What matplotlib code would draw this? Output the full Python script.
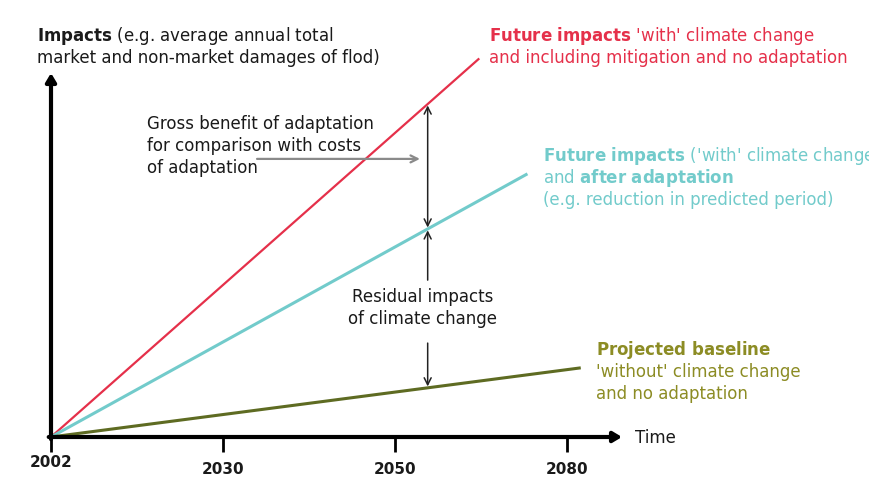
import numpy as np
import matplotlib.pyplot as plt
import matplotlib.transforms as mtransforms

# ---------------------------------------------------------
# data (conceptual impact index, x = position of the tick)
# ---------------------------------------------------------
tick_years = ["2002", "2030", "2050", "2080"]
tick_pos = [0, 1, 2, 3]

x_with_cc = [0, 2.49]        # future impacts 'with' climate change
y_with_cc = [0, 104.0]
x_adapt = [0, 2.77]          # future impacts after adaptation
y_adapt = [0, 72.3]
x_base = [0, 3.08]           # projected baseline
y_base = [0, 19.0]

x_bracket = 2.19             # where the benefit / residual arrows sit

RED = '#E5304A'
TEAL = '#72CBCB'
OLIVE_TXT = '#8C8C24'
OLIVE_LINE = '#5E6B22'
INK = '#1a1a1a'
FS = 12
STEP = 22  # px between text baselines

plt.rcParams['font.family'] = ['DejaVu Sans']
plt.rcParams['mathtext.fontset'] = 'dejavusans'

fig = plt.figure(figsize=(8.7, 5.04), dpi=100)
W, H = 870, 504
# pixel coordinates (top-left origin) for the labels
px = mtransforms.Affine2D().scale(1 / W, -1 / H).translate(0, 1) + fig.transFigure


def bloc(x, y, lines, color, ha='left'):
    # one text per line so bold (mathtext) lines keep the same spacing
    for i, line in enumerate(lines):
        fig.text(x, y + i * STEP, line, transform=px, va='baseline', ha=ha,
                 fontsize=FS, color=color)


ax = fig.add_axes([51 / W, (H - 437) / H, 571 / W, 364 / H])
ax.set_xlim(0, 571 / 172)
ax.set_ylim(0, 100)
for s in ax.spines.values():
    s.set_visible(False)
ax.set_yticks([])
ax.patch.set_alpha(0)

# --- lines ---
ax.plot(x_with_cc, y_with_cc, color=RED, lw=1.6, solid_capstyle='butt', zorder=3, clip_on=False)
ax.plot(x_adapt, y_adapt, color=TEAL, lw=2.2, solid_capstyle='butt', zorder=3, clip_on=False)
ax.plot(x_base, y_base, color=OLIVE_LINE, lw=2.2, solid_capstyle='butt', zorder=3, clip_on=False)

# --- axes drawn as arrows ---
arr = dict(arrowstyle='-|>,head_length=0.5,head_width=0.3', lw=3, color='black',
           shrinkA=0, shrinkB=0)
ax.annotate('', xy=(1, 0), xytext=(-0.004, 0), xycoords='axes fraction', arrowprops=arr, zorder=5)
ax.annotate('', xy=(0, 1), xytext=(0, -0.006), xycoords='axes fraction', arrowprops=arr, zorder=5)

ax.set_xticks(tick_pos, tick_years)
ax.tick_params(axis='x', direction='out', length=11, width=2, pad=7,
               labelsize=11, colors='black', labelcolor=INK)
for lab in ax.get_xticklabels():
    lab.set_fontweight('bold')
first = ax.get_xticklabels()[0]
first.set_transform(first.get_transform() + mtransforms.ScaledTranslation(0, 0.07, fig.dpi_scale_trans))

# --- brackets ---
yr = np.interp(x_bracket, x_with_cc, y_with_cc)
yt = np.interp(x_bracket, x_adapt, y_adapt)
yo = np.interp(x_bracket, x_base, y_base)
thin = dict(arrowstyle='->,head_length=0.5,head_width=0.25', lw=1.1, color='#222222',
            shrinkA=0, shrinkB=1)
ax.annotate('', xy=(x_bracket, yr), xytext=(x_bracket, yt),
            arrowprops=dict(thin, arrowstyle='<->,head_length=0.5,head_width=0.25', shrinkA=1))
ax.annotate('', xy=(x_bracket, yt), xytext=(x_bracket, 43.1), arrowprops=thin)
ax.annotate('', xy=(x_bracket, yo), xytext=(x_bracket, 25.8), arrowprops=thin)
ax.annotate('', xy=(2.145, 76.4), xytext=(1.198, 76.4),
            arrowprops=dict(arrowstyle='->,head_length=0.5,head_width=0.25', lw=1.6,
                            color='#8a8a8a', shrinkA=0, shrinkB=0))

# --- texts ---
bloc(37, 41, ["$\\mathbf{Impacts}$ (e.g. average annual total",
              "market and non-market damages of flod)"], INK)
bloc(489, 41, ["$\\mathbf{Future\\ impacts}$ 'with' climate change",
               "and including mitigation and no adaptation"], RED)
bloc(543, 161, ["$\\mathbf{Future\\ impacts}$ ('with' climate change",
                "and $\\mathbf{after\\ adaptation}$",
                "(e.g. reduction in predicted period)"], TEAL)
bloc(596, 355, ["$\\mathbf{Projected\\ baseline}$",
                "'without' climate change",
                "and no adaptation"], OLIVE_TXT)
bloc(147, 129, ["Gross benefit of adaptation",
                "for comparison with costs",
                "of adaptation"], INK)
bloc(423, 302, ["Residual impacts", "of climate change"], INK, ha='center')
bloc(635, 443, ["Time"], INK)

fig.savefig('out.png', dpi=100)
